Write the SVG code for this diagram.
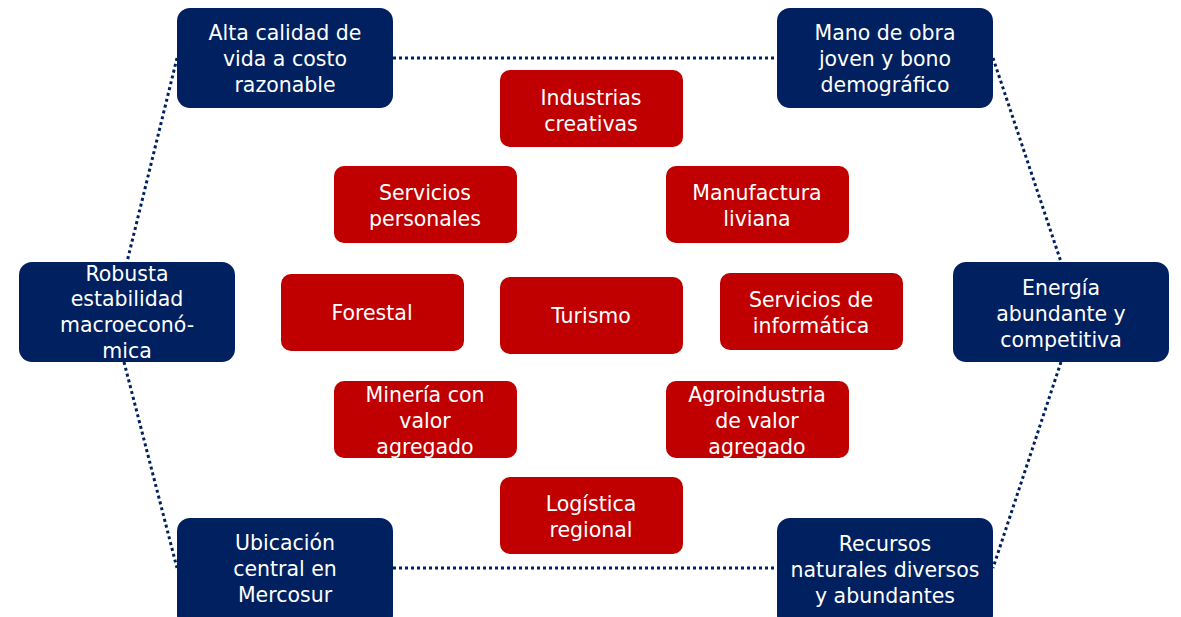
<svg xmlns="http://www.w3.org/2000/svg" width="1181" height="617" viewBox="0 0 1181 617">
<style>
.b{fill:#002060}
.r{fill:#C00000}
text{font-family:"DejaVu Sans","Liberation Sans",sans-serif;font-size:20.5px;fill:#fff;text-anchor:middle}
.c{fill:none;stroke:#002060;stroke-width:3;stroke-dasharray:3 3}
</style>
<rect width="1181" height="617" fill="#fff"/>
<g id="connectors">
<line class="c" x1="393" y1="58" x2="777" y2="58"/>
<line class="c" x1="393" y1="568" x2="777" y2="568"/>
<line class="c" x1="177" y1="58" x2="127" y2="262"/>
<line class="c" x1="124" y1="362" x2="177" y2="568"/>
<line class="c" x1="993" y1="58" x2="1061" y2="262"/>
<line class="c" x1="1061" y1="362" x2="993" y2="568"/>
</g>
<g id="n-alta"><rect class="b" x="177" y="8" width="216" height="100" rx="13"/>
<text x="285" y="40">Alta calidad de</text><text x="285" y="66">vida a costo</text><text x="285" y="92">razonable</text></g>
<g id="n-mano"><rect class="b" x="777" y="8" width="216" height="100" rx="13"/>
<text x="885" y="40">Mano de obra</text><text x="885" y="66">joven y bono</text><text x="885" y="92">demográfico</text></g>
<g id="n-robusta"><rect class="b" x="19" y="262" width="216" height="100" rx="13"/>
<text x="127" y="281">Robusta</text><text x="127" y="306">estabilidad</text><text x="127" y="332">macroeconó-</text><text x="127" y="358">mica</text></g>
<g id="n-energia"><rect class="b" x="953" y="262" width="216" height="100" rx="13"/>
<text x="1061" y="295">Energía</text><text x="1061" y="321">abundante y</text><text x="1061" y="347">competitiva</text></g>
<g id="n-ubicacion"><rect class="b" x="177" y="518" width="216" height="110" rx="13"/>
<text x="285" y="550">Ubicación</text><text x="285" y="576">central en</text><text x="285" y="602">Mercosur</text></g>
<g id="n-recursos"><rect class="b" x="777" y="518" width="216" height="110" rx="13"/>
<text x="885" y="551">Recursos</text><text x="885" y="577">naturales diversos</text><text x="885" y="603">y abundantes</text></g>
<g id="n-industrias"><rect class="r" x="500" y="70" width="183" height="77" rx="10"/>
<text x="591" y="105">Industrias</text><text x="591" y="131">creativas</text></g>
<g id="n-servpers"><rect class="r" x="334" y="166" width="183" height="77" rx="10"/>
<text x="425" y="200">Servicios</text><text x="425" y="226">personales</text></g>
<g id="n-manufactura"><rect class="r" x="666" y="166" width="183" height="77" rx="10"/>
<text x="757" y="200">Manufactura</text><text x="757" y="226">liviana</text></g>
<g id="n-forestal"><rect class="r" x="281" y="274" width="183" height="77" rx="10"/>
<text x="372" y="320">Forestal</text></g>
<g id="n-turismo"><rect class="r" x="500" y="277" width="183" height="77" rx="10"/>
<text x="591" y="323">Turismo</text></g>
<g id="n-informatica"><rect class="r" x="720" y="273" width="183" height="77" rx="10"/>
<text x="811" y="307">Servicios de</text><text x="811" y="333">informática</text></g>
<g id="n-mineria"><rect class="r" x="334" y="381" width="183" height="77" rx="10"/>
<text x="425" y="402">Minería con</text><text x="425" y="428">valor</text><text x="425" y="454">agregado</text></g>
<g id="n-agro"><rect class="r" x="666" y="381" width="183" height="77" rx="10"/>
<text x="757" y="402">Agroindustria</text><text x="757" y="428">de valor</text><text x="757" y="454">agregado</text></g>
<g id="n-logistica"><rect class="r" x="500" y="477" width="183" height="77" rx="10"/>
<text x="591" y="511">Logística</text><text x="591" y="537">regional</text></g>
</svg>
